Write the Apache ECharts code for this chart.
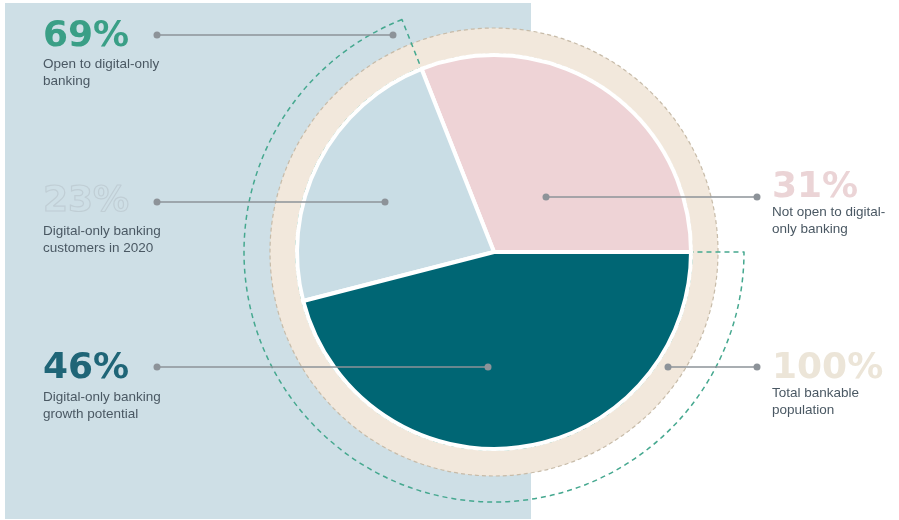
<!DOCTYPE html>
<html>
<head>
<meta charset="utf-8">
<script src="https://cdn.jsdelivr.net/npm/echarts@6/dist/echarts.min.js"></script>
<style>html,body{margin:0;padding:0;background:#fff;}#c{width:899px;height:520px;}</style>
</head>
<body>
<div id="c"></div>
<script>
// ---- data ----
const sliceNames = ['Not open to digital-only banking', 'Digital-only banking customers in 2020', 'Digital-only banking growth potential'];
const sliceValues = [31, 23, 46];
const totalValue = [100];
const openNames = ['Not open', 'Open to digital-only banking'];
const openValues = [31, 69];
const labelValues = [69, 23, 46, 31, 100];
const labelTexts = [
  'Open to digital-only\nbanking',
  'Digital-only banking\ncustomers in 2020',
  'Digital-only banking\ngrowth potential',
  'Not open to digital-\nonly banking',
  'Total bankable\npopulation'
];

// ---- layout / style ----
const C = [494, 252];
const sliceColors = ['#eed3d6', '#c9dde5', '#006674'];
const anno = [
  {tx: 43, ty: 37, sy: 64, color: '#3a9f86', line: [157, 35, 393, 35]},
  {tx: 43, ty: 202, sy: 231, color: '#d3e1e7', stroke: '#c0ced5', line: [157, 202, 385, 202]},
  {tx: 43, ty: 369, sy: 397, color: '#1f6577', line: [157, 367, 488, 367]},
  {tx: 772, ty: 188, sy: 212, color: '#ebd4d6', line: [546, 197, 757, 197]},
  {tx: 772, ty: 369, sy: 393, color: '#ece5d8', line: [668, 367, 757, 367]}
];
const lineColor = '#8d9399';

const graphic = [{
  type: 'rect', z: -10, silent: true,
  shape: {x: 5, y: 3, width: 526, height: 516},
  style: {fill: '#cedfe6'}
}];
anno.forEach((a, i) => {
  graphic.push({
    type: 'text', z: 100, x: a.tx, y: a.ty,
    style: {
      text: labelValues[i] + '%',
      font: 'bold 36px "DejaVu Sans"',
      fill: a.stroke ? 'rgba(0,0,0,0)' : a.color,
      stroke: a.stroke || null, lineWidth: a.stroke ? 1.2 : 0,
      verticalAlign: 'middle', align: 'left'
    }
  });
  graphic.push({
    type: 'text', z: 100, x: a.tx, y: a.sy - 8.5,
    style: {
      text: labelTexts[i],
      font: '13.5px "Liberation Sans"',
      fill: '#4a5863', lineHeight: 17,
      verticalAlign: 'top', align: 'left'
    }
  });
  const l = a.line;
  graphic.push({type: 'line', z: 100, shape: {x1: l[0], y1: l[1], x2: l[2], y2: l[3]}, style: {stroke: lineColor, lineWidth: 1.5}});
  graphic.push({type: 'circle', z: 101, shape: {cx: l[0], cy: l[1], r: 3.5}, style: {fill: lineColor}});
  graphic.push({type: 'circle', z: 101, shape: {cx: l[2], cy: l[3], r: 3.5}, style: {fill: lineColor}});
});

const chart = echarts.init(document.getElementById('c'), null, {renderer: 'canvas'});
const common = {
  type: 'pie', center: C, startAngle: 0, clockwise: false,
  label: {show: false}, labelLine: {show: false},
  emphasis: {disabled: true}, silent: true, animation: false
};
chart.setOption({
  backgroundColor: '#ffffff',
  animation: false,
  graphic: graphic,
  series: [
    Object.assign({}, common, {
      name: 'total', z: 1, radius: [198, 224],
      data: totalValue.map(v => ({value: v, name: 'Total bankable population'})),
      itemStyle: {color: '#f2e8dc', borderColor: '#c7bba8', borderWidth: 1.2, borderType: [4, 3]}
    }),
    Object.assign({}, common, {
      name: 'open', z: 2, radius: [198, 250],
      data: openValues.map((v, i) => ({
        value: v, name: openNames[i],
        itemStyle: i === 0
          ? {color: 'rgba(0,0,0,0)', borderWidth: 0}
          : {color: 'rgba(0,0,0,0)', borderColor: '#45a88f', borderWidth: 1.5, borderType: [5, 4]}
      }))
    }),
    Object.assign({}, common, {
      name: 'share', z: 3, radius: [0, 197],
      data: sliceValues.map((v, i) => ({value: v, name: sliceNames[i], itemStyle: {color: sliceColors[i]}})),
      itemStyle: {borderColor: '#ffffff', borderWidth: 4}
    })
  ]
});
</script>
</body>
</html>
